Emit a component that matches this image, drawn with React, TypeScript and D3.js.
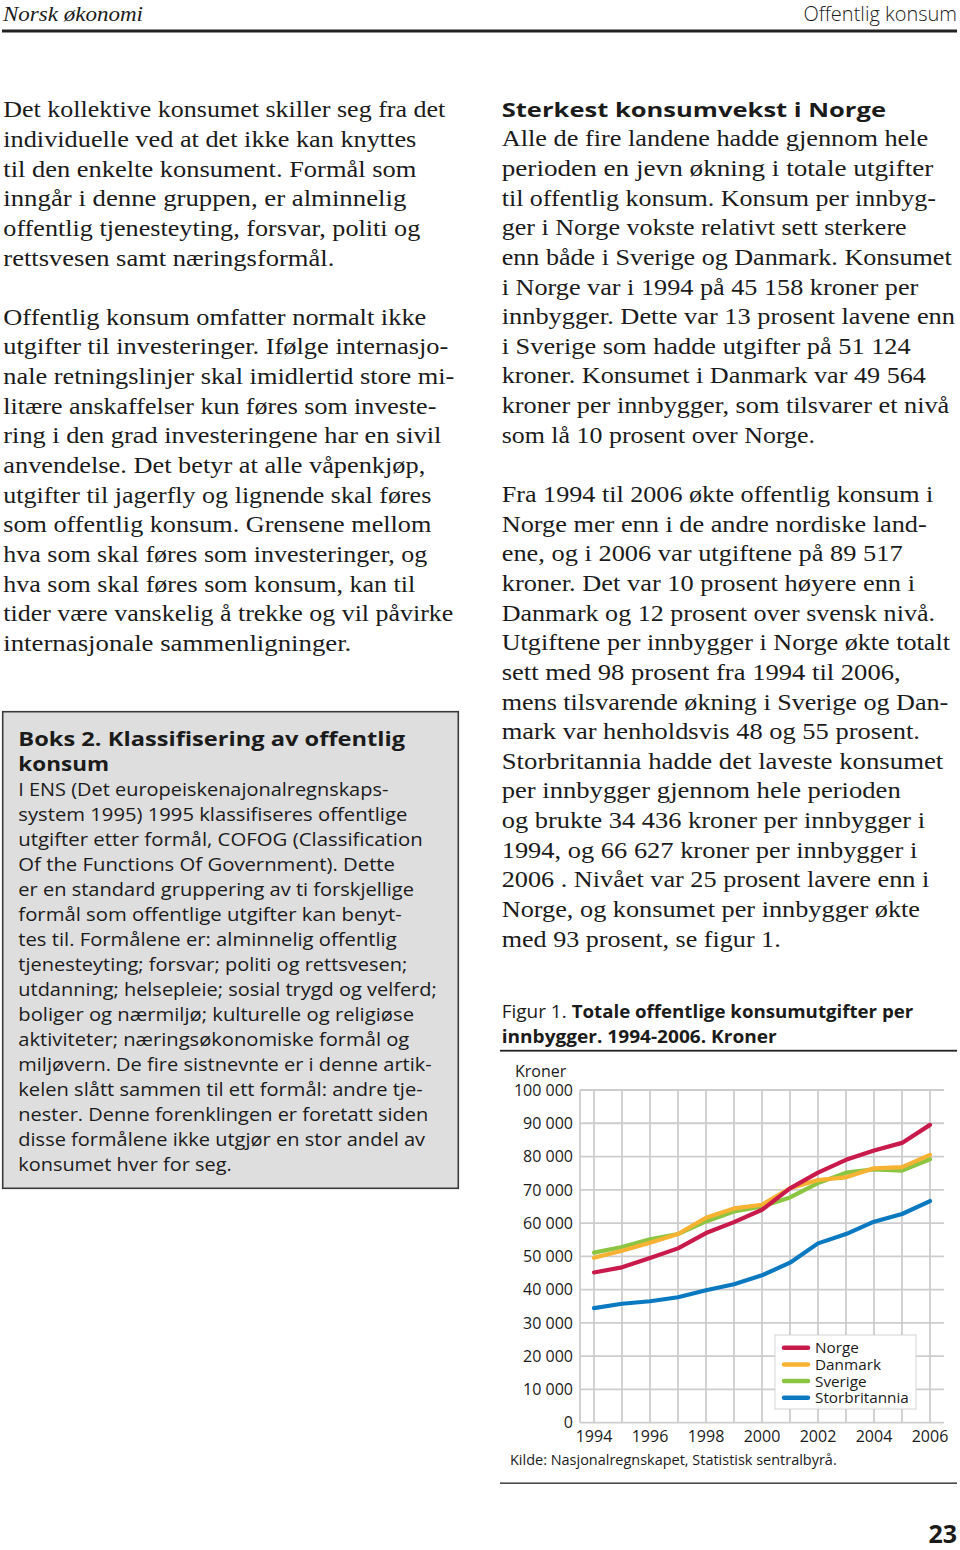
import React from 'react';
import * as d3 from 'd3';

// ---- Chart data ----
const years = [1994, 1995, 1996, 1997, 1998, 1999, 2000, 2001, 2002, 2003, 2004, 2005, 2006];
const norge = [45158, 46700, 49500, 52400, 57000, 60300, 64000, 70450, 75150, 79000, 81800, 84100, 89517];
const danmark = [49564, 51700, 54100, 56700, 61600, 64400, 65500, 70450, 72950, 73760, 76460, 76800, 80500];
const sverige = [51124, 52800, 55100, 56700, 60500, 63500, 65000, 67700, 72000, 75150, 76160, 75750, 79200];
const storbritannia = [34436, 35750, 36500, 37700, 39800, 41600, 44300, 48100, 53900, 56700, 60420, 62730, 66627];
const seriesNames = ['Norge', 'Danmark', 'Sverige', 'Storbritannia'];
const seriesValues = [norge, danmark, sverige, storbritannia];
const seriesColors = ['#c81a4b', '#f8b233', '#8cc541', '#0b79c0'];
const drawOrder = [3, 2, 1, 0];
const yTicks = [0, 10000, 20000, 30000, 40000, 50000, 60000, 70000, 80000, 90000, 100000];
const xTickLabels = [1994, 1996, 1998, 2000, 2002, 2004, 2006];

// ---- Page text ----
const leftLines: ([string, number] | null)[] = [
  ['Det kollektive konsumet skiller seg fra det', 442],
  ['individuelle ved at det ikke kan knyttes', 413],
  ['til den enkelte konsument. Formål som', 413],
  ['inngår i denne gruppen, er alminnelig', 403],
  ['offentlig tjenesteyting, forsvar, politi og', 417],
  ['rettsvesen samt næringsformål.', 331],
  null,
  ['Offentlig konsum omfatter normalt ikke', 423],
  ['utgifter til investeringer. Ifølge internasjo-', 445],
  ['nale retningslinjer skal imidlertid store mi-', 451],
  ['litære anskaffelser kun føres som investe-', 433],
  ['ring i den grad investeringene har en sivil', 438],
  ['anvendelse. Det betyr at alle våpenkjøp,', 422],
  ['utgifter til jagerfly og lignende skal føres', 428],
  ['som offentlig konsum. Grensene mellom', 428],
  ['hva som skal føres som investeringer, og', 424],
  ['hva som skal føres som konsum, kan til', 412],
  ['tider være vanskelig å trekke og vil påvirke', 450],
  ['internasjonale sammenligninger.', 348],
];

const rightLines: ([string, number] | null)[] = [
  null,
  ['Alle de fire landene hadde gjennom hele', 426.6],
  ['perioden en jevn økning i totale utgifter', 431.6],
  ['til offentlig konsum. Konsum per innbyg-', 434.3],
  ['ger i Norge vokste relativt sett sterkere', 405],
  ['enn både i Sverige og Danmark. Konsumet', 450],
  ['i Norge var i 1994 på 45 158 kroner per', 416.6],
  ['innbygger. Dette var 13 prosent lavene enn', 453.3],
  ['i Sverige som hadde utgifter på 51 124', 409],
  ['kroner. Konsumet i Danmark var 49 564', 424.3],
  ['kroner per innbygger, som tilsvarer et nivå', 447.6],
  ['som lå 10 prosent over Norge.', 313.3],
  null,
  ['Fra 1994 til 2006 økte offentlig konsum i', 431.6],
  ['Norge mer enn i de andre nordiske land-', 425],
  ['ene, og i 2006 var utgiftene på 89 517', 401],
  ['kroner. Det var 10 prosent høyere enn i', 413.3],
  ['Danmark og 12 prosent over svensk nivå.', 433.3],
  ['Utgiftene per innbygger i Norge økte totalt', 448.3],
  ['sett med 98 prosent fra 1994 til 2006,', 399],
  ['mens tilsvarende økning i Sverige og Dan-', 446.6],
  ['mark var henholdsvis 48 og 55 prosent.', 418.3],
  ['Storbritannia hadde det laveste konsumet', 441.6],
  ['per innbygger gjennom hele perioden', 399],
  ['og brukte 34 436 kroner per innbygger i', 423.3],
  ['1994, og 66 627 kroner per innbygger i', 415.6],
  ['2006 . Nivået var 25 prosent lavere enn i', 427.6],
  ['Norge, og konsumet per innbygger økte', 418.3],
  ['med 93 prosent, se figur 1.', 279],
];

const boxTitle: [string, number][] = [
  ['Boks 2. Klassifisering av offentlig', 386.7],
  ['konsum', 90.7],
];
const boxLines: [string, number][] = [
  ['I ENS (Det europeiskenajonalregnskaps-', 370],
  ['system 1995) 1995 klassifiseres offentlige', 389],
  ['utgifter etter formål, COFOG (Classification', 404.4],
  ['Of the Functions Of Government). Dette', 376.7],
  ['er en standard gruppering av ti forskjellige', 395.7],
  ['formål som offentlige utgifter kan benyt-', 383.4],
  ['tes til. Formålene er: alminnelig offentlig', 378.4],
  ['tjenesteyting; forsvar; politi og rettsvesen;', 389],
  ['utdanning; helsepleie; sosial trygd og velferd;', 418.4],
  ['boliger og nærmiljø; kulturelle og religiøse', 395.7],
  ['aktiviteter; næringsøkonomiske formål og', 391],
  ['miljøvern. De fire sistnevnte er i denne artik-', 413.4],
  ['kelen slått sammen til ett formål: andre tje-', 404.4],
  ['nester. Denne forenklingen er foretatt siden', 410],
  ['disse formålene ikke utgjør en stor andel av', 406.7],
  ['konsumet hver for seg.', 213.4],
];

const SERIF = '"Liberation Serif", "Times New Roman", serif';
const SANS = '"Open Sans", "Noto Sans", sans-serif';
const INK = '#1b1b1b';

const fmt = (v: number) => d3.format(',')(v).replace(/,/g, ' ');

function Chart() {
  const x = d3.scaleLinear().domain([1993.5, 2006.5]).range([580, 944]);
  const y = d3.scaleLinear().domain([0, 100000]).range([1422.7, 1090]);
  const line = d3
    .line<number>()
    .x((_, i) => x(years[i]))
    .y((d) => y(d));
  const [x0, x1] = x.range();
  const [y0, y1] = y.range();
  const gridColor = '#cdcdcd';
  const legendX = 775;
  const legendY = 1335;
  const rowH = 16.7;
  return (
    <g>
      {yTicks.map((t) => (
        <line key={'h' + t} x1={x0} x2={x1} y1={y(t)} y2={y(t)} stroke={gridColor} strokeWidth={1.8} />
      ))}
      {years.map((yr) => (
        <line key={'v' + yr} x1={x(yr)} x2={x(yr)} y1={y1} y2={y0} stroke={gridColor} strokeWidth={1.8} />
      ))}
      <line x1={x0} x2={x0} y1={y1} y2={y0} stroke={gridColor} strokeWidth={1.8} />
      {yTicks.map((t) => (
        <text key={'yl' + t} x={573} y={y(t)} dy="0.36em" textAnchor="end" fontFamily={SANS} fontSize={16} fill={INK}>
          {fmt(t)}
        </text>
      ))}
      {xTickLabels.map((t) => (
        <text key={'xl' + t} x={x(t)} y={1442.3} textAnchor="middle" fontFamily={SANS} fontSize={16} fill={INK}>
          {t}
        </text>
      ))}
      <text x={515} y={1076.7} fontFamily={SANS} fontSize={16} fill={INK}>Kroner</text>
      {drawOrder.map((si) => (
        <path
          key={seriesNames[si]}
          d={line(seriesValues[si]) || ''}
          fill="none"
          stroke={seriesColors[si]}
          strokeWidth={4.2}
          strokeLinejoin="round"
          strokeLinecap="round"
        />
      ))}
      <rect x={legendX} y={legendY} width={141} height={74} fill="#fff" stroke="#d4d4d4" strokeWidth={1} />
      {seriesNames.map((n, i) => (
        <g key={'lg' + n}>
          <line
            x1={legendX + 9}
            x2={legendX + 33}
            y1={legendY + 12.7 + i * rowH}
            y2={legendY + 12.7 + i * rowH}
            stroke={seriesColors[i]}
            strokeWidth={4.5}
            strokeLinecap="round"
          />
          <text x={legendX + 40} y={legendY + 12.7 + i * rowH} dy="0.36em" fontFamily={SANS} fontSize={15.3} fill={INK}>
            {n}
          </text>
        </g>
      ))}
      <text x={510} y={1465} fontFamily={SANS} fontSize={14.5} fill={INK} textLength={326.7} lengthAdjust="spacingAndGlyphs">
        Kilde: Nasjonalregnskapet, Statistisk sentralbyrå.
      </text>
    </g>
  );
}

function Lines({ lines, x, y0, pitch, font, size, weight }: any) {
  return (
    <g>
      {lines.map((l: [string, number] | null, i: number) =>
        l ? (
          <text
            key={i}
            x={x}
            y={y0 + i * pitch}
            fontFamily={font}
            fontSize={size}
            fontWeight={weight || 400}
            fill={INK}
            textLength={l[1]}
            lengthAdjust="spacingAndGlyphs"
          >
            {l[0]}
          </text>
        ) : null
      )}
    </g>
  );
}

export default function App() {
  return (
    <svg
      width={960}
      height={1550}
      viewBox="0 0 960 1550"
      style={{ position: 'absolute', left: 0, top: 0, background: '#fff' }}
    >
      <rect x={0} y={0} width={960} height={1550} fill="#fff" />
      {/* Header */}
      <text x={3} y={21} fontFamily={SERIF} fontStyle="italic" fontSize={21} fill={INK} textLength={140} lengthAdjust="spacingAndGlyphs">
        Norsk økonomi
      </text>
      <text x={957} y={21} textAnchor="end" fontFamily={SANS} fontWeight={300} fontSize={20} fill={INK}>
        Offentlig konsum
      </text>
      <rect x={2} y={29.5} width={955} height={3} fill="#222" />

      {/* Left column */}
      <Lines lines={leftLines} x={3.3} y0={117.3} pitch={29.64} font={SERIF} size={23.5} />

      {/* Box */}
      <rect x={2.7} y={711.7} width={455.6} height={476.6} fill="#dedede" stroke="#3a3a3a" strokeWidth={1.6} />
      <Lines lines={boxTitle} x={18.3} y0={745.5} pitch={25} font={SANS} size={19} weight={700} />
      <Lines lines={boxLines} x={18.3} y0={795.5} pitch={25} font={SANS} size={17.5} />

      {/* Right column */}
      <text x={501.7} y={116.7} fontFamily={SANS} fontWeight={700} fontSize={20} fill={INK} textLength={384.3} lengthAdjust="spacingAndGlyphs">
        Sterkest konsumvekst i Norge
      </text>
      <Lines lines={rightLines} x={501.7} y0={116.7} pitch={29.64} font={SERIF} size={23.5} />

      {/* Figure caption */}
      <text x={501.7} y={1018.3} fontFamily={SANS} fontSize={18.5} fill={INK} textLength={65} lengthAdjust="spacingAndGlyphs">
        Figur 1.
      </text>
      <text x={571.7} y={1018.3} fontFamily={SANS} fontWeight={700} fontSize={18.5} fill={INK} textLength={341.6} lengthAdjust="spacingAndGlyphs">
        Totale offentlige konsumutgifter per
      </text>
      <text x={501.7} y={1043.3} fontFamily={SANS} fontWeight={700} fontSize={18.5} fill={INK} textLength={275} lengthAdjust="spacingAndGlyphs">
        innbygger. 1994-2006. Kroner
      </text>
      <rect x={500} y={1049.8} width={457} height={1.8} fill="#222" />

      <Chart />

      <rect x={500} y={1482.5} width={457} height={1.3} fill="#222" />

      {/* Page number */}
      <text x={957} y={1542.7} textAnchor="end" fontFamily={SANS} fontWeight={700} fontSize={25} fill={INK}>
        23
      </text>
    </svg>
  );
}
